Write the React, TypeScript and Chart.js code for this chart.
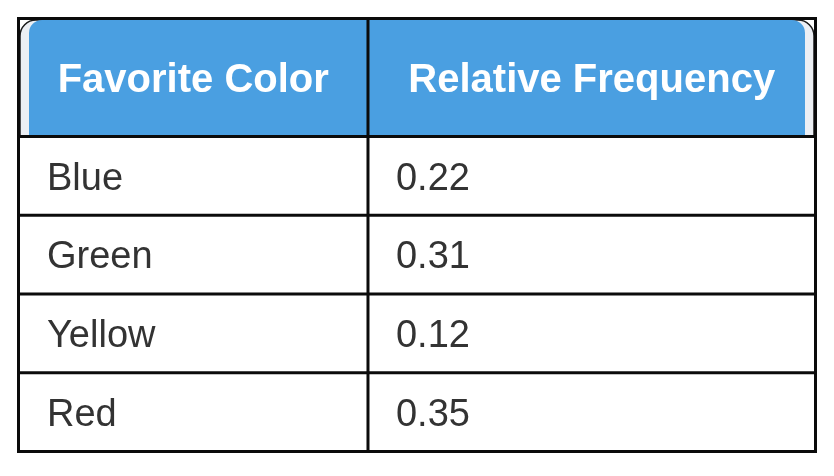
import React, { useEffect, useRef } from "react";
import { Chart, registerables } from "chart.js";

Chart.register(...registerables);

// ---- data ----
const headers = ["Favorite Color", "Relative Frequency"];
const categories = ["Blue", "Green", "Yellow", "Red"];
const frequencies = [0.22, 0.31, 0.12, 0.35];

// ---- layout constants (scale units) ----
const COL_SPLIT = 0.4385; // x-position of column divider on 0..1 scale
const HEADER_UNITS = 1.5; // header row height in row units
const TOTAL_UNITS = HEADER_UNITS + categories.length;

function topRoundedPath(ctx: CanvasRenderingContext2D, l: number, t: number, r: number, b: number, rad: number) {
  ctx.beginPath();
  ctx.moveTo(l, b);
  ctx.lineTo(l, t + rad);
  ctx.arcTo(l, t, l + rad, t, rad);
  ctx.lineTo(r - rad, t);
  ctx.arcTo(r, t, r, t + rad, rad);
  ctx.lineTo(r, b);
  ctx.closePath();
}

const tablePlugin = {
  id: "tableDraw",
  afterDraw(chart: any) {
    const ctx: CanvasRenderingContext2D = chart.ctx;
    const xs = chart.scales.x;
    const ys = chart.scales.y;
    const L = xs.getPixelForValue(0);
    const R = xs.getPixelForValue(1);
    const M = xs.getPixelForValue(COL_SPLIT);
    const T = ys.getPixelForValue(0);
    const B = ys.getPixelForValue(TOTAL_UNITS);
    const H = ys.getPixelForValue(HEADER_UNITS);
    const line = "#0b0b0b";
    const lw = 3;

    ctx.save();
    // header background (light rim + blue cell)
    topRoundedPath(ctx, L + 1.5, T + 1.5, R - 1.5, H, 16);
    ctx.fillStyle = "#eceff4";
    ctx.fill();
    ctx.strokeStyle = "#1a1a1a";
    ctx.lineWidth = 1.5;
    ctx.stroke();

    topRoundedPath(ctx, L + 10.5, T + 1.5, R - 10.5, H, 13);
    ctx.fillStyle = "#4a9fe1";
    ctx.fill();

    // grid lines
    ctx.strokeStyle = line;
    ctx.lineWidth = lw;
    for (let i = 0; i <= categories.length; i++) {
      const yy = ys.getPixelForValue(HEADER_UNITS + i);
      ctx.beginPath();
      ctx.moveTo(L, yy);
      ctx.lineTo(R, yy);
      ctx.stroke();
    }
    ctx.beginPath();
    ctx.moveTo(M, T);
    ctx.lineTo(M, B);
    ctx.stroke();
    ctx.strokeRect(L, T, R - L, B - T);

    // header text
    ctx.fillStyle = "#ffffff";
    ctx.font = "bold 40px 'Liberation Sans', Arial, sans-serif";
    ctx.textAlign = "center";
    ctx.textBaseline = "alphabetic";
    const hy = (T + H) / 2 + 0.36 * 40;
    ctx.fillText(headers[0], (L + M) / 2, hy);
    ctx.fillText(headers[1], (M + R) / 2, hy);

    // body text
    ctx.fillStyle = "#333333";
    ctx.font = "38px 'Liberation Sans', Arial, sans-serif";
    ctx.textAlign = "left";
    categories.forEach((cat, i) => {
      const top = ys.getPixelForValue(HEADER_UNITS + i);
      const bot = ys.getPixelForValue(HEADER_UNITS + i + 1);
      const by = (top + bot) / 2 + 0.36 * 38;
      ctx.fillText(cat, L + 28.5, by);
      ctx.fillText(frequencies[i].toFixed(2), M + 28, by);
    });
    ctx.restore();
  },
};

export default function App() {
  const ref = useRef<HTMLCanvasElement | null>(null);
  useEffect(() => {
    document.body.style.margin = "0";
    const canvas = ref.current;
    if (!canvas) return;
    const chart = new Chart(canvas, {
      type: "scatter",
      data: {
        datasets: [
          {
            label: "Relative Frequency",
            data: frequencies.map((f, i) => ({ x: COL_SPLIT, y: HEADER_UNITS + i + 0.5 })),
            pointRadius: 0,
            pointHoverRadius: 0,
          },
        ],
      },
      options: {
        responsive: false,
        maintainAspectRatio: false,
        animation: false,
        events: [],
        layout: { padding: { left: 18.5, right: 18.5, top: 18.5, bottom: 24.5 } },
        scales: {
          x: { type: "linear", min: 0, max: 1, display: false },
          y: { type: "linear", min: 0, max: TOTAL_UNITS, reverse: true, display: false },
        },
        plugins: { legend: { display: false }, tooltip: { enabled: false } },
      },
      plugins: [tablePlugin],
    });
    return () => chart.destroy();
  }, []);
  return (
    <div style={{ width: 834, height: 476, background: "#ffffff" }}>
      <canvas ref={ref} width={834} height={476} style={{ width: 834, height: 476, display: "block" }} />
    </div>
  );
}
